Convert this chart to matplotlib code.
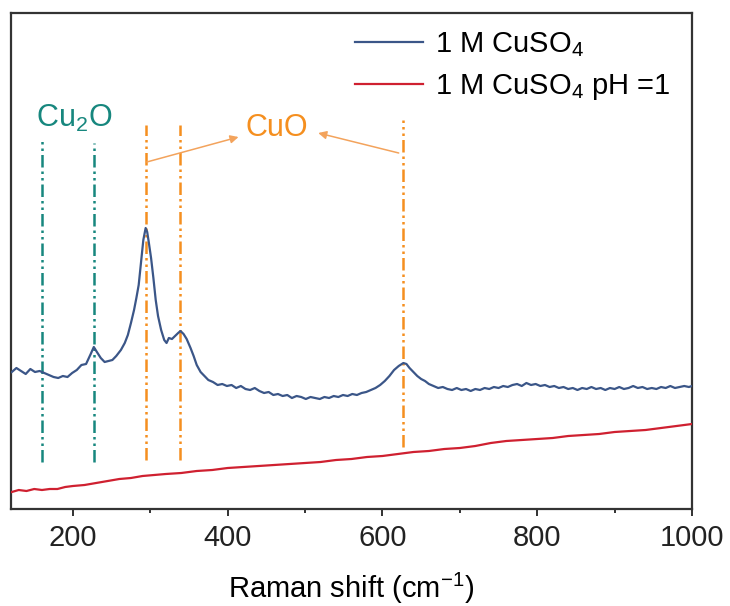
import matplotlib
matplotlib.use("Agg")
import matplotlib.pyplot as plt

plt.rcParams['font.family'] = ['Liberation Sans', 'DejaVu Sans']
plt.rcParams['mathtext.fontset'] = 'custom'
plt.rcParams['mathtext.rm'] = 'Liberation Sans'
plt.rcParams['mathtext.it'] = 'Liberation Sans'

# ---- data (Raman shift in cm-1, intensity in a.u.) ----
blue_x = [121, 127, 133, 139, 145, 151, 157, 163, 169, 175, 181, 187, 193, 199,
          205, 211, 217, 223, 227, 231, 236, 241, 246, 251, 256, 262, 267, 271,
          275, 279, 282, 285, 288, 291, 294, 296, 298, 301, 304, 307, 310, 314,
          318, 321, 324, 328, 332, 336, 339, 343, 347, 352, 356, 360, 365, 370,
          375, 381, 387, 393, 399, 405, 411, 417, 423, 429, 435, 441, 447, 453,
          459, 465, 471, 477, 483, 489, 495, 501, 507, 513, 519, 525, 531, 537,
          543, 549, 555, 561, 567, 573, 579, 585, 591, 597, 603, 609, 615, 621,
          627, 631, 635, 640, 645, 650, 655, 660, 666, 672, 678, 684, 690, 696,
          702, 708, 714, 720, 726, 732, 738, 744, 750, 756, 762, 768, 774, 780,
          786, 792, 798, 804, 810, 816, 822, 828, 834, 840, 846, 852, 858, 864,
          870, 876, 882, 888, 894, 900, 906, 912, 918, 924, 930, 936, 942, 948,
          954, 960, 966, 972, 978, 984, 990, 996, 1000]
blue_y = [137, 141, 138, 135, 140, 137, 138, 136, 134, 132, 131, 133, 132, 136,
          139, 144, 145, 155, 162, 157, 151, 147, 148, 149, 153, 159, 166, 174,
          186, 199, 211, 224, 247, 269, 281, 277, 267, 251, 231, 209, 193, 179,
          169, 166, 171, 170, 173, 176, 178, 175, 170, 161, 153, 144, 137, 133,
          129, 127, 124, 125, 123, 124, 121, 123, 120, 119, 121, 118, 116, 117,
          114, 115, 113, 114, 111, 113, 112, 110, 112, 111, 110, 112, 111, 113,
          112, 114, 113, 115, 114, 116, 117, 119, 121, 124, 128, 133, 139, 143,
          146, 145, 141, 137, 133, 130, 128, 125, 123, 121, 122, 120, 119, 121,
          119, 120, 118, 120, 119, 121, 120, 122, 121, 123, 122, 124, 125, 123,
          126, 124, 125, 123, 124, 122, 123, 121, 122, 120, 121, 119, 121, 120,
          122, 120, 121, 119, 121, 120, 122, 120, 121, 123, 121, 122, 120, 121,
          120, 122, 121, 123, 121, 122, 123, 122, 123]

red_x = [121, 130, 140, 150, 160, 170, 180, 190, 200, 215, 230, 245, 260, 275,
         290, 305, 320, 340, 360, 380, 400, 420, 440, 460, 480, 500, 520, 540,
         560, 580, 600, 620, 640, 660, 680, 700, 720, 740, 760, 780, 800, 820,
         840, 860, 880, 900, 920, 940, 960, 980, 1000]
red_y = [17, 19, 18, 20, 19, 20, 20, 22, 23, 24, 26, 28, 30, 31,
         33, 34, 35, 36, 38, 39, 41, 42, 43, 44, 45, 46, 47, 49,
         50, 52, 53, 55, 57, 58, 60, 61, 63, 66, 68, 69, 70, 71,
         73, 74, 75, 77, 78, 79, 81, 83, 85]

labels = ["1 M CuSO$_4$", "1 M CuSO$_4$ pH =1"]
cu2o_peaks = [160, 227]
cuo_peaks = [294, 339, 627]

# ---- styles ----
BLUE = "#3b5688"
RED = "#cf2030"
TEAL = "#17877e"
ORANGE = "#f58f1f"
ARROW = "#f3a35c"

fig = plt.figure(figsize=(7.30, 6.06), dpi=100)
ax = fig.add_axes([11/730, 1 - 509/606, 681/730, 496/606])

ax.plot(blue_x, blue_y, color=BLUE, lw=1.6, label=labels[0], zorder=3)
ax.plot(red_x, red_y, color=RED, lw=1.6, label=labels[1], zorder=3)

dash = (5, 1.6, 1, 1.6, 1, 1.6)
for p, top in zip(cu2o_peaks, [371, 366]):
    ax.plot([p, p], [47, top], color=TEAL, lw=1.8, dashes=dash, zorder=2)
for p, (bot, top) in zip(cuo_peaks, [(49, 384), (49, 384), (62, 389)]):
    ax.plot([p, p], [bot, top], color=ORANGE, lw=1.8, dashes=dash, zorder=2)

ax.text(201, 391, "Cu$_2$O", color=TEAL, fontsize=22, ha='center', va='center')
ax.text(463, 381, "CuO", color=ORANGE, fontsize=22, ha='center', va='center')
ax.annotate("", xy=(414, 372), xytext=(295.5, 347),
            arrowprops=dict(arrowstyle='-|>', color=ARROW, lw=1.1,
                            mutation_scale=12, shrinkA=0, shrinkB=0))
ax.annotate("", xy=(517, 376), xytext=(621, 356),
            arrowprops=dict(arrowstyle='-|>', color=ARROW, lw=1.1,
                            mutation_scale=12, shrinkA=0, shrinkB=0))

ax.set_xlim(120, 1000)
ax.set_ylim(0, 496)
ax.set_xticks([200, 400, 600, 800, 1000])
ax.set_xticks([300, 500, 700, 900], minor=True)
ax.set_yticks([])
ax.tick_params(axis='x', which='major', length=5, width=1.3, labelsize=21,
               pad=6, direction='out', colors='#222222')
ax.tick_params(axis='x', which='minor', length=3, width=1.3, direction='out',
               colors='#222222')
for s in ax.spines.values():
    s.set_linewidth(1.6)
    s.set_color('#333333')
ax.set_xlabel("Raman shift (cm$^{-1}$)", fontsize=21, labelpad=13)

leg = ax.legend(loc='upper left', bbox_to_anchor=(0.505, 0.966), frameon=False,
                fontsize=21, handlelength=2.35, handletextpad=0.4,
                labelspacing=0.45, borderpad=0, borderaxespad=0)

fig.savefig("out.png", dpi=100)
